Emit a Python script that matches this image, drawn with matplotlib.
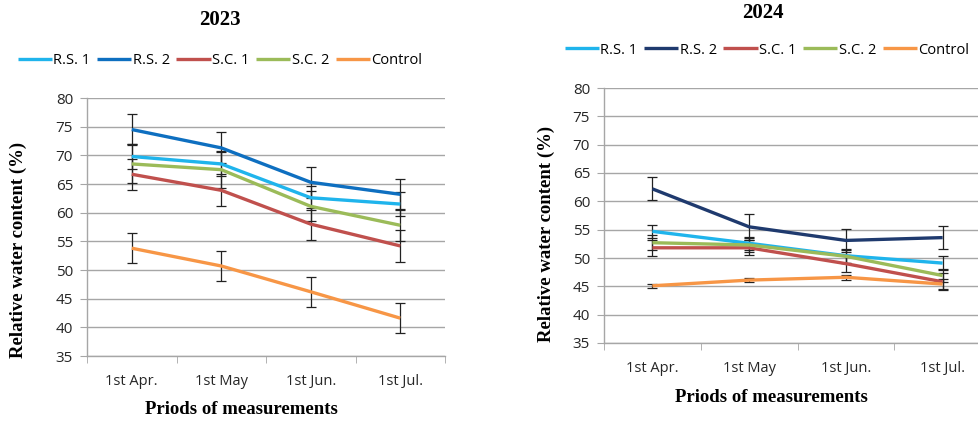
import matplotlib
matplotlib.use("Agg")
import matplotlib.pyplot as plt
import numpy as np

periods = ["1st Apr.", "1st May", "1st Jun.", "1st Jul."]
series_names = ["R.S. 1", "R.S. 2", "S.C. 1", "S.C. 2", "Control"]

# 2023 values
rs1_2023 = [69.8, 68.5, 62.6, 61.5]
rs2_2023 = [74.5, 71.3, 65.3, 63.2]
sc1_2023 = [66.7, 63.9, 58.0, 54.2]
sc2_2023 = [68.5, 67.5, 61.1, 57.8]
ctl_2023 = [53.8, 50.7, 46.2, 41.6]
rs1_err_2023 = [2.1, 2.1, 2.1, 2.1]
rs2_err_2023 = [2.7, 2.7, 2.7, 2.7]
sc1_err_2023 = [2.7, 2.8, 2.8, 2.8]
sc2_err_2023 = [3.4, 3.2, 2.6, 2.8]
ctl_err_2023 = [2.6, 2.6, 2.65, 2.6]

# 2024 values
rs1_2024 = [54.7, 52.6, 50.4, 49.1]
rs2_2024 = [62.2, 55.5, 53.1, 53.6]
sc1_2024 = [51.8, 51.8, 49.0, 45.8]
sc2_2024 = [52.7, 52.3, 50.3, 46.9]
ctl_2024 = [45.1, 46.1, 46.6, 45.4]
rs1_err_2024 = [1.2, 1.1, 1.2, 1.2]
rs2_err_2024 = [2.05, 2.3, 2.0, 2.05]
sc1_err_2024 = [1.4, 1.3, 1.5, 1.5]
sc2_err_2024 = [1.3, 1.3, 1.2, 1.2]
ctl_err_2024 = [0.4, 0.4, 0.4, 0.9]

colors_2023 = ["#1FB4EC", "#0E6FC0", "#C0504D", "#9BBB59", "#F79646"]
colors_2024 = ["#1FB4EC", "#1F3A6E", "#C0504D", "#9BBB59", "#F79646"]

W, H = 979, 421
fig = plt.figure(figsize=(W / 100, H / 100), dpi=100)

serif = ["Liberation Serif", "DejaVu Serif"]
sans = ["Open Sans", "DejaVu Sans"]
grid_c = "#A6A6A6"
txt_c = "#262626"


def make_panel(rect, title, title_xy, leg_xy, ylab_xy, xlab_xy, vals, errs, colors):
    l, t, r, b = rect
    ax = fig.add_axes([l / W, 1 - b / H, (r - l) / W, (b - t) / H])
    x = np.arange(1, 5)
    handles = []
    for v, e, c, n in zip(vals, errs, colors, series_names):
        ax.errorbar(x, v, yerr=e, fmt="none", ecolor="#222222", elinewidth=0.9,
                    capsize=3.5, capthick=0.9, zorder=3)
        h, = ax.plot(x, v, color=c, lw=2.4, label=n, zorder=4, solid_capstyle="butt")
        handles.append(h)
    ax.set_xlim(0.5, 4.5)
    ax.set_ylim(35, 80)
    ax.set_yticks(np.arange(35, 81, 5))
    ax.set_xticks(x)
    ax.set_xticklabels(periods, fontfamily=sans, fontsize=10.5, color=txt_c)
    ax.set_xticks(np.arange(0.5, 4.6, 1), minor=True)
    ax.tick_params(axis="x", which="major", length=0, pad=13)
    ax.tick_params(axis="x", which="minor", length=5, color=grid_c, direction="out")
    ax.tick_params(axis="y", length=5, color=grid_c, pad=5)
    for lbl in ax.get_yticklabels():
        lbl.set_fontfamily(sans)
        lbl.set_fontsize(11)
        lbl.set_color(txt_c)
    ax.grid(axis="y", color=grid_c, lw=1.0)
    ax.set_axisbelow(True)
    for s in ["top", "right"]:
        ax.spines[s].set_visible(False)
    for s in ["left", "bottom"]:
        ax.spines[s].set_color(grid_c)
        ax.spines[s].set_linewidth(1.0)
    fig.text(title_xy[0] / W, 1 - title_xy[1] / H, title, ha="center", va="center",
             fontfamily=serif, fontweight="bold", fontsize=15)
    fig.text(ylab_xy[0] / W, 1 - ylab_xy[1] / H, "Relative water content (%)", rotation=90,
             ha="center", va="center", fontfamily=serif, fontweight="bold", fontsize=13.5)
    fig.text(xlab_xy[0] / W, 1 - xlab_xy[1] / H, "Priods of measurements", ha="center",
             va="center", fontfamily=serif, fontweight="bold", fontsize=13.5)
    fig.legend(handles=handles, loc="center", bbox_to_anchor=(leg_xy[0] / W, 1 - leg_xy[1] / H),
               ncol=5, frameon=False, prop={"family": sans, "size": 10.5},
               handlelength=2.35, handletextpad=0.1, columnspacing=0.45, borderpad=0)
    return ax


make_panel((87, 98, 445, 356), "2023", (220, 20), (220, 61), (18, 250), (241, 409),
           [rs1_2023, rs2_2023, sc1_2023, sc2_2023, ctl_2023],
           [rs1_err_2023, rs2_err_2023, sc1_err_2023, sc2_err_2023, ctl_err_2023],
           colors_2023)

make_panel((604, 88, 991, 343), "2024", (763, 13), (767, 50), (546, 234), (771, 398),
           [rs1_2024, rs2_2024, sc1_2024, sc2_2024, ctl_2024],
           [rs1_err_2024, rs2_err_2024, sc1_err_2024, sc2_err_2024, ctl_err_2024],
           colors_2024)

fig.savefig("out.png", dpi=100, facecolor="white")
